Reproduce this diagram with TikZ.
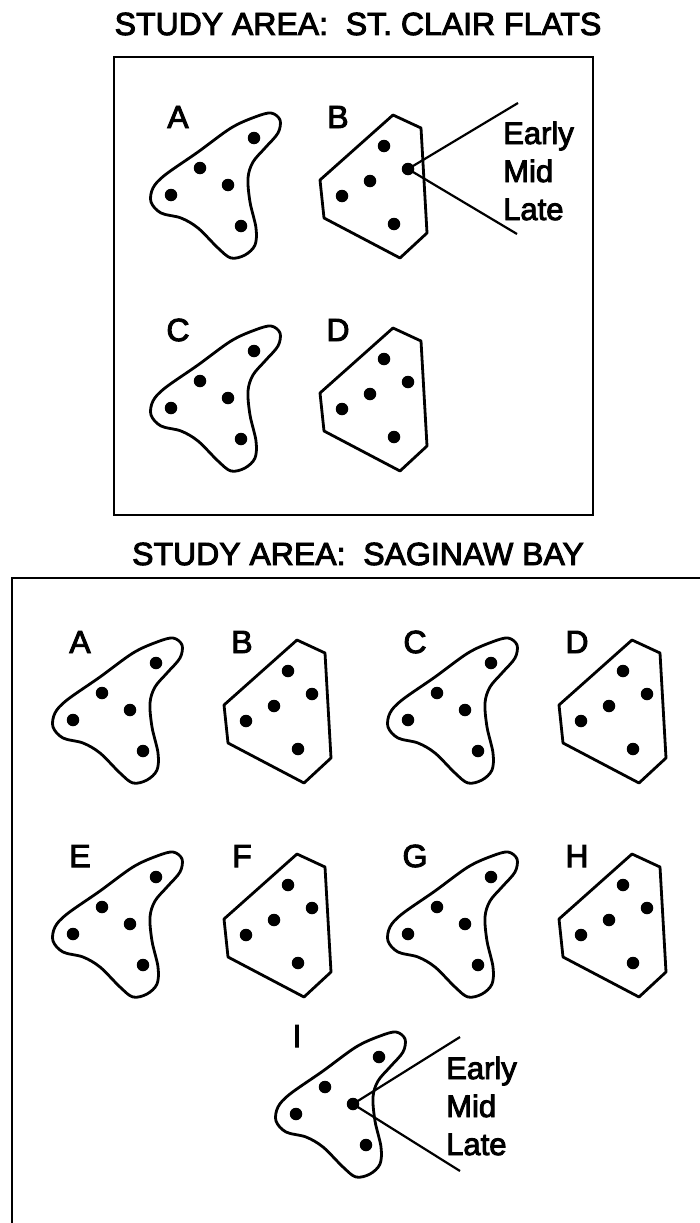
\documentclass[tikz,border=0pt]{standalone}
\usepackage{fontspec}
\setmainfont{Liberation Sans}
\newfontfamily\heavysans[FakeBold=3]{Liberation Sans}
\tikzset{
  outline/.style={line width=2.8pt, line join=round},
  dotmark/.style={circle, fill=black, inner sep=0pt, minimum size=12.5pt},
  lab/.style={font=\fontsize{32}{38}\selectfont\heavysans, inner sep=0pt},
  ttl/.style={font=\fontsize{32}{38}\selectfont\heavysans, inner sep=0pt, anchor=base},
  phase/.style={font=\fontsize{31}{38}\selectfont\heavysans, inner sep=0pt, anchor=base west},
  frame/.style={line width=2.4pt},
  leader/.style={line width=2.2pt},
  blobshape/.pic={
    \draw[outline] plot[smooth cycle, tension=0.55] coordinates {
      (93,-4) (102,3) (100,16) (87,31) (75,45) (70,61) (72,85) (78,111)
      (77,128) (67,138) (53,141) (40,131) (20,111) (3,101) (-17,96)
      (-27,85) (-25,71) (-13,58) (20,35) (53,11) (77,0)};
    \node[dotmark] (-d1) at (76,21) {};
    \node[dotmark] (-d2) at (22,51) {};
    \node[dotmark] (-d3) at (50,68) {};
    \node[dotmark] (-d4) at (-7,78) {};
    \node[dotmark] (-d5) at (63,109) {};
  },
  polyshape/.pic={
    \draw[outline] (55,-2) -- (83,11) -- (89,116) -- (62,141) -- (-14,101) -- (-18,63) -- cycle;
    \node[dotmark] (-d1) at (46,29) {};
    \node[dotmark] (-d2) at (70,52) {};
    \node[dotmark] (-d3) at (32,64) {};
    \node[dotmark] (-d4) at (4,79) {};
    \node[dotmark] (-d5) at (56,107) {};
  },
}
\begin{document}
\begin{tikzpicture}[x=1pt, y=-1pt]
\useasboundingbox (0,0) rectangle (699,1223);

% ---------- St. Clair Flats ----------
\node[ttl] (t1) at (358,35) {STUDY AREA:\ \ ST. CLAIR FLATS};
\draw[frame] (114,57) rectangle (593,515);

\pic (SA) at (178,117) {blobshape};
\pic (SB) at (338,117) {polyshape};
\pic (SC) at (178,330) {blobshape};
\pic (SD) at (338,330) {polyshape};
\node[lab] (lSA) at (178,117) {A};
\node[lab] (lSB) at (338,117) {B};
\node[lab] (lSC) at (178,330) {C};
\node[lab] (lSD) at (338,330) {D};

\coordinate (SBup) at (518,103);
\coordinate (SBdn) at (517,234);
\draw[leader] (SBup) -- (SB-d2.center) -- (SBdn);
\node[phase] (SBe) at (503,144) {Early};
\node[phase] (SBm) at (503,182) {Mid};
\node[phase] (SBl) at (503,220) {Late};

% ---------- Saginaw Bay ----------
\node[ttl] (t2) at (358,565) {STUDY AREA:\ \ SAGINAW BAY};
\draw[frame] (720,578) -- (12,578) -- (12,1240);

\pic (GA) at (80,642) {blobshape};
\pic (GB) at (242,642) {polyshape};
\pic (GC) at (415,642) {blobshape};
\pic (GD) at (577,642) {polyshape};
\pic (GE) at (80,856) {blobshape};
\pic (GF) at (242,856) {polyshape};
\pic (GG) at (415,856) {blobshape};
\pic (GH) at (577,856) {polyshape};
\pic (GI) at (303,1036) {blobshape};
\node[lab] (lGA) at (80,642) {A};
\node[lab] (lGB) at (242,642) {B};
\node[lab] (lGC) at (415,642) {C};
\node[lab] (lGD) at (577,642) {D};
\node[lab] (lGE) at (80,856) {E};
\node[lab] (lGF) at (242,856) {F};
\node[lab] (lGG) at (415,856) {G};
\node[lab] (lGH) at (577,856) {H};
\node[lab] (lGI) at (297,1036) {I};

\coordinate (GIup) at (460,1037);
\coordinate (GIdn) at (460,1171);
\draw[leader] (GIup) -- (GI-d3.center) -- (GIdn);
\node[phase] (GIe) at (446,1079) {Early};
\node[phase] (GIm) at (446,1117) {Mid};
\node[phase] (GIl) at (446,1155) {Late};
\end{tikzpicture}
\end{document}
